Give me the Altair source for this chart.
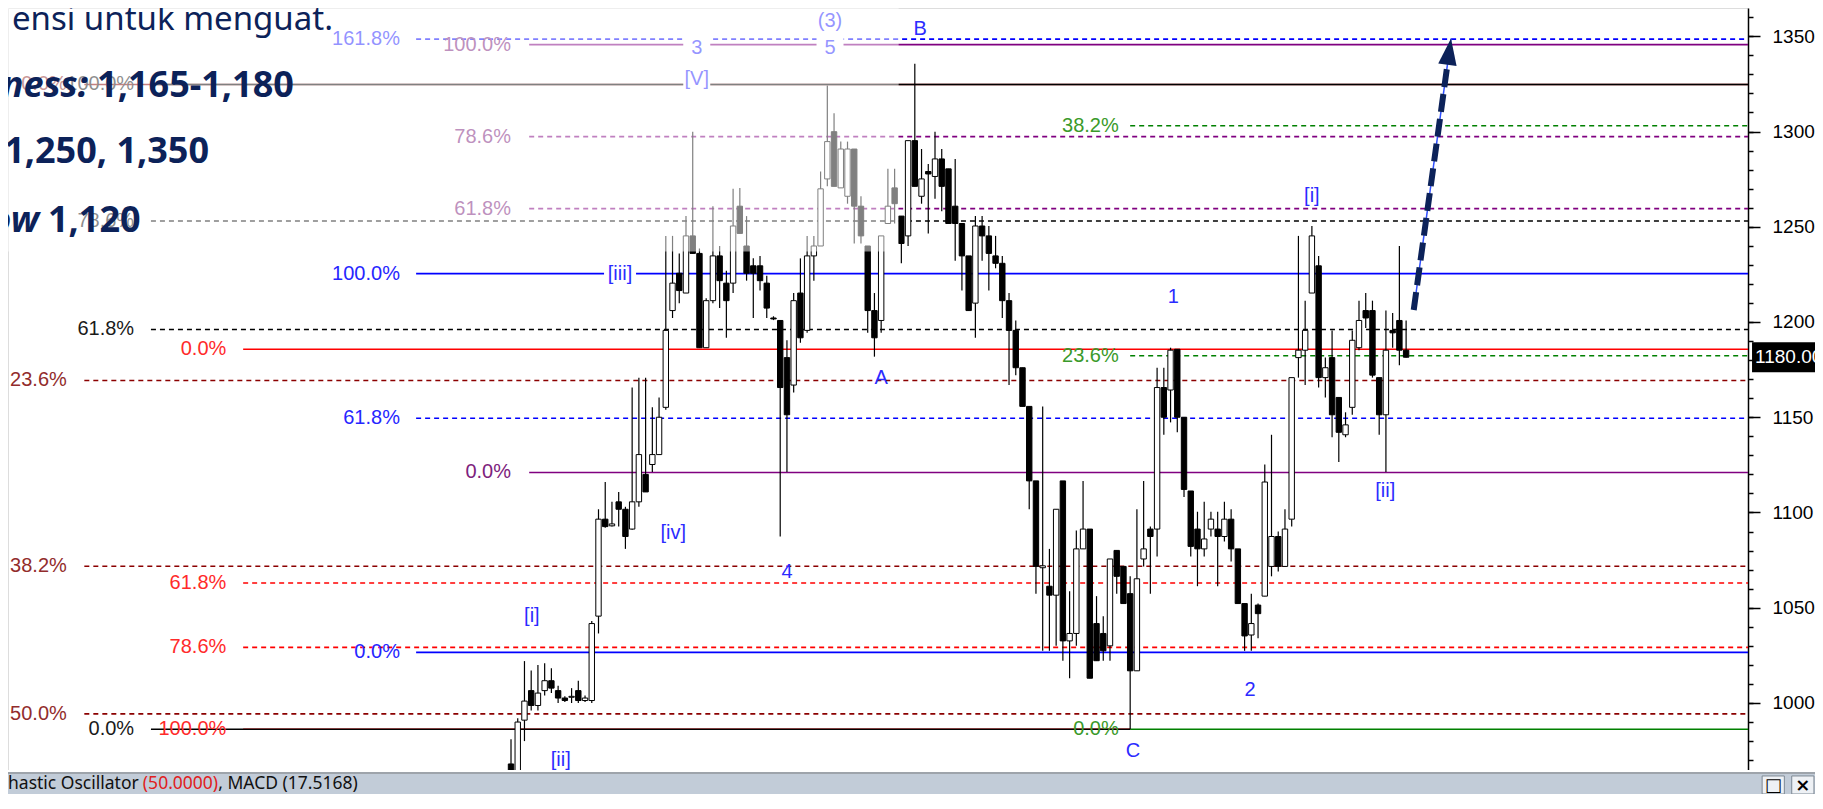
import math
import altair as alt
import pandas as pd

# ------------------------------------------------------------------ candles
opens = [968, 958, 991, 1006.5, 998.7, 1006.5, 1011.7, 1006.5, 1002.6, 1003,
         1006.5, 1001.3, 1001.3, 1045.6, 1096.5, 1093, 1105.6, 1101.7, 1091.3, 1105.6,
         1120, 1125.2, 1130.4, 1155.2, 1206, 1225.6, 1215.2, 1245.2, 1236, 1186.5,
         1211.2, 1234.7, 1220.4, 1220.4, 1260.8, 1239.9, 1229.5, 1229.5, 1220.4, 1202.1,
         1200.8, 1181.3, 1166.9, 1215.2, 1195.6, 1234.7, 1239.9, 1275.1, 1299.9, 1270.4,
         1266, 1290.8, 1260.8, 1239.9, 1206, 1200.8, 1251.7, 1270.4, 1255.6, 1245.2,
         1295.2, 1266, 1279, 1276.4, 1285.6, 1280.4, 1260.8, 1251.7, 1234.7, 1209.9,
         1250.4, 1245.2, 1234.7, 1230.8, 1211.2, 1195.6, 1176, 1155.7, 1116.6, 1071,
         1061.3, 1056.6, 1116.6, 1032.6, 1036.5, 1080.9, 1091.3, 1041.7, 1036.5, 1030,
         1080.1, 1071.7, 1057.4, 1016.9, 1075.6, 1091.3, 1091.3, 1165.6, 1164.3, 1185.7,
         1150, 1111.3, 1091.3, 1080.9, 1091.3, 1091.3, 1087.4, 1096.5, 1080.9, 1052.2,
         1035.7, 1051.4, 1056.1, 1071.7, 1087.4, 1071.7, 1096.5, 1181.3, 1185.2, 1215.2,
         1229.5, 1170.8, 1181.3, 1160.4, 1140.8, 1155.2, 1186.5, 1206, 1206, 1170.8,
         1151.3, 1195.6, 1200.8, 1185.2]
highs = [981, 992, 1022, 1017, 1020, 1020.9, 1018.2, 1009, 1003.5, 1007.8,
         1011.7, 1003.9, 1043, 1101.7, 1116, 1105.6, 1110.8, 1103, 1165.6, 1170.8,
         1170.8, 1155.2, 1160.4, 1245.2, 1245.2, 1236, 1255.6, 1299.9, 1238.6, 1212.5,
         1260.8, 1239.9, 1226.9, 1269.9, 1270.4, 1255.6, 1233.4, 1234.7, 1224.3, 1203,
         1200.8, 1190.4, 1215.2, 1233.4, 1245.2, 1245.2, 1279, 1324.2, 1309.6, 1294.7,
         1294.7, 1290.8, 1266, 1239.9, 1215.2, 1245.2, 1280.4, 1280.4, 1255.6, 1295.2,
         1335.6, 1290.8, 1283, 1299.9, 1290.8, 1280.4, 1285.6, 1251.7, 1234.7, 1255.6,
         1255.6, 1250.4, 1245.2, 1234.7, 1215.2, 1200.8, 1176, 1155.7, 1116.6, 1155.7,
         1080.9, 1101.7, 1116.6, 1058.7, 1090.5, 1116.6, 1091.3, 1056.1, 1045.6, 1075.6,
         1080.1, 1071.7, 1066.5, 1101.7, 1116.6, 1092.6, 1176, 1176, 1186.5, 1185.7,
         1150, 1111.3, 1100.4, 1105.6, 1100.4, 1100.4, 1105.6, 1101.7, 1080.9, 1052.2,
         1057.4, 1052.2, 1125.2, 1140.8, 1090, 1101.7, 1170.8, 1245.2, 1211.2, 1250.4,
         1234.7, 1181.3, 1195.6, 1160.4, 1152.6, 1195.6, 1211.2, 1215.2, 1211.2, 1170.8,
         1206, 1204.7, 1239.9, 1200.8]
lows = [955, 955, 980, 996, 996, 1003.9, 1005.2, 1000, 1000.5, 1000,
        1000, 1000.5, 1000, 1036.5, 1092, 1092.6, 1092.6, 1080.9, 1091, 1103,
        1110.8, 1121.3, 1130.4, 1153.9, 1202.1, 1209.9, 1215.2, 1236, 1186.5, 1186.5,
        1209.9, 1207.3, 1191.7, 1215.2, 1246.5, 1221.7, 1202.1, 1216.5, 1202.1, 1201,
        1087.4, 1121.3, 1163, 1189.1, 1194.3, 1221.7, 1239.9, 1271.2, 1271.2, 1270.4,
        1262.1, 1241.2, 1241.2, 1194.3, 1181.8, 1194.3, 1251.7, 1251.7, 1230.8, 1239.9,
        1271.2, 1262.1, 1246.5, 1264.7, 1258.2, 1251.7, 1232.1, 1216.5, 1206, 1191.7,
        1232.1, 1216.5, 1228.2, 1202.1, 1166.9, 1172.1, 1155.7, 1101.7, 1057.4, 1027.4,
        1027.4, 1030, 1022.2, 1013, 1030, 1080.9, 1013, 1022.2, 1022.2, 1022.2,
        1057.4, 1052.2, 986.2, 1016.9, 1071.7, 1057.4, 1076.9, 1140.8, 1147.3, 1142.1,
        1108.2, 1076.9, 1061.3, 1076.9, 1087.4, 1061.3, 1084.8, 1074.3, 1052.2, 1027.4,
        1027.4, 1034, 1056.1, 1066.5, 1069, 1071.7, 1092.6, 1170.8, 1166.9, 1215.2,
        1165.6, 1160.4, 1139.5, 1126.5, 1139.5, 1151.3, 1185.2, 1196.9, 1170.8, 1140.8,
        1121.3, 1186.5, 1177.3, 1181.3]
closes = [964, 990, 1001, 998.7, 1005.2, 1011.7, 1007.8, 1002.6, 1001.3, 1003.5,
          1001.3, 1002.6, 1041.7, 1096.5, 1092.6, 1094, 1101.7, 1087.4, 1105.6, 1130.4,
          1110.8, 1130.4, 1150, 1195.6, 1220.4, 1216.5, 1245.2, 1236, 1186.5, 1211.2,
          1234.7, 1221.7, 1211.2, 1250.4, 1246.5, 1225.6, 1225.6, 1221.7, 1207.3, 1201.6,
          1165.6, 1151.3, 1211.2, 1191.7, 1234.7, 1239.9, 1269.9, 1294.7, 1271.2, 1290.8,
          1290.8, 1260.8, 1245.2, 1206, 1191.7, 1245.2, 1260.8, 1262.1, 1241.2, 1295.2,
          1271.2, 1275.1, 1277.7, 1285.6, 1271.2, 1251.7, 1251.7, 1234.7, 1206, 1250.4,
          1245.2, 1236, 1230.8, 1211.2, 1195.6, 1176, 1155.7, 1116.6, 1071.7, 1072,
          1056.6, 1101.7, 1032.6, 1036.5, 1080.9, 1091.3, 1013, 1022.2, 1027.4, 1075.6,
          1066.5, 1052.2, 1016.9, 1065.2, 1080.9, 1087.4, 1165.6, 1150, 1185.2, 1150,
          1112.1, 1082.2, 1080.9, 1086.1, 1096.5, 1087.4, 1096.5, 1080.9, 1052.2, 1035.2,
          1041.7, 1046.9, 1116, 1087.4, 1071.7, 1091.3, 1170.8, 1185.2, 1195.6, 1245.2,
          1170.8, 1176, 1151.3, 1142.1, 1146, 1190.4, 1200.8, 1202.1, 1172.1, 1151.3,
          1185.2, 1194.3, 1185.2, 1181.5]
price_tag = 1180.0

# ------------------------------------------------------- Fibonacci levels
level_price = [1348.5, 1345.6, 1324.7, 1324.7, 1303.0, 1297.3, 1259.5, 1253.0,
               1225.4, 1196.1, 1185.7, 1182.3, 1169.3, 1149.5, 1121.0, 1071.8,
               1063.0, 1029.2, 1026.6, 994.3, 986.2, 986.2, 986.2]
level_label = ["161.8%", "100.0%", "0.0%", "100.0%", "38.2%", "78.6%", "61.8%", "78.6%",
               "100.0%", "61.8%", "0.0%", "23.6%", "23.6%", "61.8%", "0.0%", "38.2%",
               "61.8%", "78.6%", "0.0%", "50.0%", "100.0%", "0.0%", "0.0%"]
level_set = ["blue", "purple", "darkred", "black", "green", "purple", "purple", "black",
             "blue", "black", "red", "green", "darkred", "blue", "purple", "darkred",
             "red", "red", "blue", "darkred", "red", "black", "green"]
level_solid = [False, True, True, True, False, False, False, False,
               True, False, True, False, False, False, True, False,
               False, False, True, False, True, True, True]
level_stops_at_c = [False] * 20 + [True, True, False]

C_INDEX = 92  # candle of wave C low
set_start = {"darkred": -63.4, "black": -53.5, "red": -39.8, "blue": -14.1,
             "purple": 2.7, "green": C_INDEX}
set_label_end = {"darkred": -66.0, "black": -56.0, "red": -42.3, "blue": -16.5,
                 "purple": 0.0, "green": 90.3}

# ------------------------------------------------------- Elliott labels
wave_text = ["[i]", "[ii]", "[iii]", "[iv]", "[V]", "3", "5", "(3)", "4", "A", "B",
             "C", "1", "2", "[i]", "[ii]"]
wave_x = [3.1, 7.4, 16.2, 24.1, 27.6, 27.6, 47.4, 47.4, 41.0, 55.0, 60.8,
          92.4, 98.4, 109.8, 119.0, 129.9]
wave_price = [1045.8, 970.0, 1225.4, 1089.0, 1327.7, 1344.0, 1344.0, 1358.0, 1069.0,
              1170.6, 1353.8, 975.0, 1213.0, 1006.6, 1266.0, 1111.3]

# ------------------------------------------------------- projection arrow
arrow_x = [134.13, 139.67]
arrow_price = [1206.3, 1348.8]

# ------------------------------------------------------- styles / layout
FONT_N = "Liberation Sans Narrow, Arial Narrow, Liberation Sans, sans-serif"
FONT_T = "Noto Sans, Open Sans, sans-serif"
NAVY = "#0c2259"
WAVE_BLUE = "#2b2bff"
line_color = {"blue": "#0000ff", "purple": "#800080", "darkred": "#8b0000",
              "black": "#000000", "green": "#008000", "red": "#ff0000"}
label_color = {"blue": "#2626ff", "purple": "#7d227d", "darkred": "#922c2c",
               "black": "#1a1a1a", "green": "#3a9a2a", "red": "#ff2a2a"}
bg_size = {"[iii]": 1024, "[V]": 729, "3": 729, "5": 729}

W, H = 1740, 786
X_MIN, X_MAX = -74.74, 183.80
Y_MIN, Y_MAX = 952.23, 1364.83
PX_X = W / (X_MAX - X_MIN)
PX_Y = H / (Y_MAX - Y_MIN)
BODY_HALF = 2.7 / PX_X
FADE_X_END = 57.6
FADE_PRICE = 1237.0

xs = alt.Scale(domain=[X_MIN, X_MAX], nice=False, zero=False)
ys = alt.Scale(domain=[Y_MIN, Y_MAX], nice=False, zero=False)


def ex(f):
    return alt.X(f"{f}:Q", scale=xs, axis=None)


def ey(f, axis=None):
    return alt.Y(f"{f}:Q", scale=ys, axis=axis)


def px2p(px):  # vertical pixel distance -> price units
    return px / PX_Y


# ------------------------------------------------------- tables
n = len(opens)
cd = pd.DataFrame({"i": list(range(n)), "open": opens, "high": highs,
                   "low": lows, "close": closes})
cd["blo"] = cd[["open", "close"]].min(axis=1)
cd["bhi"] = cd[["open", "close"]].max(axis=1)
cd["fill"] = ["#ffffff" if c > o else "#000000" for o, c in zip(opens, closes)]
cd["xl"] = cd["i"] - BODY_HALF
cd["xr"] = cd["i"] + BODY_HALF

lv = pd.DataFrame({
    "price": level_price, "label": level_label, "set": level_set, "solid": level_solid,
})
lv["x"] = [set_start[s] for s in level_set]
lv["x2"] = [C_INDEX if stop else X_MAX for stop in level_stops_at_c]
lv["lx"] = [set_label_end[s] for s in level_set]
lv["color"] = [line_color[s] for s in level_set]
lv["lcolor"] = [label_color[s] for s in level_set]

wv = pd.DataFrame({"t": wave_text, "x": wave_x, "price": wave_price})
wbg = wv[wv["t"].isin(list(bg_size))].copy()
wbg["s"] = [bg_size[t] for t in wbg["t"]]

minor_axis = alt.Axis(orient="right", values=list(range(960, 1370, 10)), tickSize=5,
                      labels=False, domain=True, domainColor="black", domainWidth=1.5,
                      tickColor="black", tickWidth=1.5, grid=False, title=None)
major_axis = alt.Axis(orient="right", values=[1000, 1050, 1100, 1150, 1200, 1250, 1300, 1350],
                      tickSize=12, labels=True, format="d", labelFont=FONT_N,
                      labelFontSize=19, labelColor="black", labelPadding=12,
                      domain=False, tickColor="black", tickWidth=1.5, grid=False,
                      title=None, labelFlush=False, labelOverlap=False, labelBound=False)

layers = []

# Fibonacci lines
layers.append(alt.Chart(lv[~lv["solid"]]).mark_rule(strokeWidth=1.6, strokeDash=[5, 4]).encode(
    x=ex("x"), x2="x2", y=ey("price"), color=alt.Color("color:N", scale=None)))
layers.append(alt.Chart(lv[lv["solid"]]).mark_rule(strokeWidth=1.6).encode(
    x=ex("x"), x2="x2", y=ey("price"), color=alt.Color("color:N", scale=None)))

# candles
layers.append(alt.Chart(cd).mark_rule(color="black", strokeWidth=1.2).encode(
    x=ex("i"), y=ey("low", minor_axis), y2="high"))
layers.append(alt.Chart(cd).mark_rect(stroke="black", strokeWidth=1).encode(
    x=ex("xl"), x2="xr", y=ey("blo", major_axis), y2="bhi",
    fill=alt.Fill("fill:N", scale=None)))

# label backgrounds + labels
layers.append(alt.Chart(wbg).mark_point(shape="M-1,-0.75L1,-0.75L1,0.75L-1,0.75Z",
                                        filled=True, color="white", opacity=1).encode(
    x=ex("x"), y=ey("price"), size=alt.Size("s:Q", scale=None)))
layers.append(alt.Chart(lv).mark_text(align="right", baseline="middle", font=FONT_N,
                                      fontSize=20).encode(
    x=ex("lx"), y=ey("price"), text="label:N", color=alt.Color("lcolor:N", scale=None)))
layers.append(alt.Chart(wv).mark_text(align="center", baseline="middle", font=FONT_N,
                                      fontSize=20, color=WAVE_BLUE).encode(
    x=ex("x"), y=ey("price"), text="t:N"))

# faded (older) drawing area
fade = pd.DataFrame({"x": [X_MIN], "x2": [FADE_X_END], "y": [FADE_PRICE], "y2": [Y_MAX]})
layers.append(alt.Chart(fade).mark_rect(color="white", opacity=0.5).encode(
    x=ex("x"), x2="x2", y=ey("y"), y2="y2"))

# projection arrow
head_frac = 0.905
ax0, ax1 = arrow_x
ay0, ay1 = arrow_price
adash = pd.DataFrame({"x": [ax0], "x2": [ax0 + head_frac * (ax1 - ax0)],
                      "y": [ay0], "y2": [ay0 + head_frac * (ay1 - ay0)]})
athin = pd.DataFrame({"x": [ax0], "x2": [ax1], "y": [ay0], "y2": [ay1]})
ahead = pd.DataFrame({"x": [ax0 + 0.952 * (ax1 - ax0)], "y": [ay0 + 0.952 * (ay1 - ay0)]})
angle = math.degrees(math.atan2((ax1 - ax0) * PX_X, (ay1 - ay0) * PX_Y))
layers.append(alt.Chart(athin).mark_rule(color="#3050ff", strokeWidth=1.5).encode(
    x=ex("x"), x2="x2", y=ey("y"), y2="y2"))
layers.append(alt.Chart(adash).mark_rule(color=NAVY, strokeWidth=6, strokeDash=[18, 7]).encode(
    x=ex("x"), x2="x2", y=ey("y"), y2="y2"))
layers.append(alt.Chart(ahead).mark_point(shape="M0,-1L0.7,1L-0.7,1Z", filled=True,
                                          color=NAVY, opacity=1, size=700, angle=angle).encode(
    x=ex("x"), y=ey("y")))

# commentary text (cut at the left edge as in the source image)
notes = [
    ("ensi untuk menguat.", -26.45, 1353.3, "right", "normal", "normal", 33),
    ("ness:", -62.85, 1318.3, "right", "bold", "italic", 36),
    ("1,165-1,180", -61.5, 1318.3, "left", "bold", "normal", 36),
    ("1,250, 1,350", -44.87, 1283.5, "right", "bold", "normal", 36),
    ("ow", -70.13, 1247.2, "right", "bold", "italic", 36),
    ("1,120", -68.8, 1247.2, "left", "bold", "normal", 36),
]
for t, x, y, al, fw, fs, sz in notes:
    layers.append(alt.Chart(pd.DataFrame({"t": [t], "x": [x], "y": [y]})).mark_text(
        align=al, baseline="alphabetic", font=FONT_T, fontSize=sz, fontWeight=fw,
        fontStyle=fs, color=NAVY).encode(x=ex("x"), y=ey("y"), text="t:N"))

# last price tag
last = closes[-1]
tag = pd.DataFrame({"x": [184.4], "x2": [197.0], "y": [last - px2p(15)], "y2": [last + px2p(15)],
                    "yt": [last], "t": [f"{price_tag:.3f}"]})
layers.append(alt.Chart(tag).mark_rect(color="black").encode(
    x=ex("x"), x2="x2", y=ey("y"), y2="y2"))
layers.append(alt.Chart(tag).mark_text(align="left", baseline="middle", dx=3, font=FONT_N,
                                       fontSize=19, color="white").encode(
    x=ex("x"), y=ey("yt"), text="t:N"))

# bottom status bar
y_plot_bottom = 1200 - (770 - 322) / 1.905
gap = pd.DataFrame({"x": [X_MIN], "x2": [200.0], "y": [y_plot_bottom - px2p(2)], "y2": [y_plot_bottom]})
sep = pd.DataFrame({"x": [X_MIN], "x2": [200.0], "y": [y_plot_bottom - px2p(4)], "y2": [y_plot_bottom - px2p(2)]})
bar = pd.DataFrame({"x": [X_MIN], "x2": [200.0], "y": [Y_MIN], "y2": [y_plot_bottom - px2p(4)]})
layers.append(alt.Chart(gap).mark_rect(color="white").encode(x=ex("x"), x2="x2", y=ey("y"), y2="y2"))
layers.append(alt.Chart(sep).mark_rect(color="#9ea4ab").encode(x=ex("x"), x2="x2", y=ey("y"), y2="y2"))
layers.append(alt.Chart(bar).mark_rect(color="#c2ccd8").encode(x=ex("x"), x2="x2", y=ey("y"), y2="y2"))
status = [("hastic Oscillator", X_MIN, "#111111"),
          ("(50.0000)", -54.7, "#e02020"),
          (", MACD (17.5168)", -43.5, "#111111")]
for t, x, c in status:
    layers.append(alt.Chart(pd.DataFrame({"t": [t], "x": [x], "y": [954.9]})).mark_text(
        align="left", baseline="alphabetic", font=FONT_T, fontSize=17.5, color=c).encode(
        x=ex("x"), y=ey("y"), text="t:N"))
btn = pd.DataFrame({"x": [185.9, 190.3], "x2": [189.2, 193.6], "y": [Y_MIN, Y_MIN],
                    "y2": [961.7, 961.7], "xc": [187.55, 191.95], "yc": [956.6, 956.6],
                    "t": ["\u25a1", "\u00d7"]})
layers.append(alt.Chart(btn).mark_rect(color="#eef1f5", stroke="#7d8894", strokeWidth=1).encode(
    x=ex("x"), x2="x2", y=ey("y"), y2="y2"))
layers.append(alt.Chart(btn).mark_text(align="center", baseline="middle", font="DejaVu Sans",
                                       fontSize=18, fontWeight="bold", color="black").encode(
    x=ex("xc"), y=ey("yc"), text="t:N"))

chart = alt.layer(*layers).resolve_axis(y="independent").properties(
    width=W, height=H,
    autosize=alt.AutoSizeParams(type="none"),
    padding={"left": 0, "top": 0, "right": 67, "bottom": 0},
).configure_view(stroke=None).configure(background="white")

chart.save("out.html", embed_options={"renderer": "svg", "actions": False})
